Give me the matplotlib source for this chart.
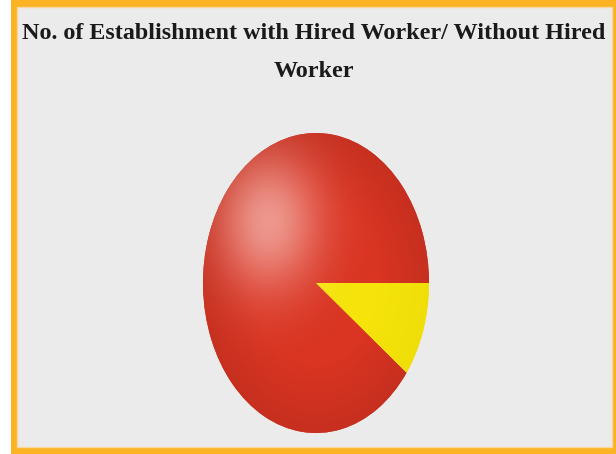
import numpy as np
import matplotlib
matplotlib.use("Agg")
import matplotlib.pyplot as plt
from matplotlib.patches import Rectangle
from matplotlib.colors import to_rgb

# share of establishments
labels = ["With Hired Worker", "Without Hired Worker"]
shares = [89.8, 10.2]
colors = ["#DA3422", "#F5E30A"]
title = "No. of Establishment with Hired Worker/ Without Hired\nWorker"

W, H = 616, 454
fig = plt.figure(figsize=(W / 100, H / 100), dpi=100, facecolor="white")

# orange frame + grey panel
fig.patches.append(Rectangle((11 / W, 0), 1 - 11 / W, 1, transform=fig.transFigure,
                             facecolor="#FBB324", edgecolor="none", zorder=-2))
fig.patches.append(Rectangle((17 / W, 7 / H), 595 / W, 440 / H, transform=fig.transFigure,
                             facecolor="#EBEBEB", edgecolor="#F6D8A0", lw=1, zorder=-1))

fig.text(314 / W, 1 - 23 / H, title, ha="center", va="top", family="Liberation Serif",
         weight="bold", fontsize=17.4, color="#1a1a1a", linespacing=2.05)

ax = fig.add_axes([203 / W, 21 / H, 226 / W, 300 / H])
ax.set_zorder(1)
ax.axis("off")

wedges, _ = ax.pie(shares, colors=colors, startangle=0, counterclock=True,
                   radius=1, wedgeprops=dict(lw=0))
ax.set_aspect("auto")
ax.set_xlim(-1, 1)
ax.set_ylim(-1, 1)

# glossy shading: soft highlight at upper left, darker rim
xx, yy = np.meshgrid(np.linspace(-1, 1, 400), np.linspace(-1, 1, 500))
t = np.hypot(xx + 0.42, yy - 0.41)
hl = np.exp(-(t / 0.45) ** 2)[..., None]
rim = np.clip((np.hypot(xx, yy) - 0.55) / 0.45, 0, 1)[..., None]
tints = ["#F3B0A8", "#FBF3A0"]
rim_dark = [0.09, 0.02]
for w, c, tint, rd in zip(wedges, colors, tints, rim_dark):
    base = np.array(to_rgb(c))
    img = base * (1 - rd * rim)
    img = img * (1 - 0.8 * hl) + np.array(to_rgb(tint)) * 0.8 * hl
    im = ax.imshow(np.clip(img, 0, 1), origin="lower", extent=(-1, 1, -1, 1),
                   aspect="auto", interpolation="bilinear", zorder=3)
    im.set_clip_path(w)

fig.savefig("out.png", dpi=100, facecolor="white")
